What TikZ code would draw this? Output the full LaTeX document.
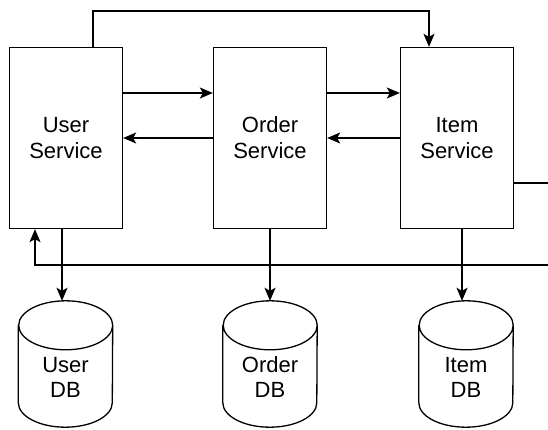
\documentclass[tikz,border=0pt]{standalone}
\usepackage{fontspec}
\setmainfont{Liberation Sans}
\usetikzlibrary{arrows.meta}

\begin{document}
\begin{tikzpicture}[x=1pt,y=-1pt,
	svc/.style={rectangle,draw,line width=1.3pt,minimum width=113pt,minimum height=181pt,align=center,font=\fontsize{22}{26}\selectfont},
	db/.style={rectangle,minimum width=94pt,minimum height=126pt,inner sep=0pt},
	dbtext/.style={align=center,font=\fontsize{22}{25}\selectfont,yshift=-13pt},
	dbline/.style={line width=1.3pt},
	arr/.style={line width=1.3pt,-{Stealth[length=13pt,width=11pt,inset=3pt]}}]
\useasboundingbox (0,0) rectangle (548,430);
\clip (0,0) rectangle (548,430);
\node [svc] (user) at (66,138) {User\\Service};
\node [svc] (order) at (270,138) {Order\\Service};
\node [svc] (item) at (457,138) {Item\\Service};
\node [db,label={[dbtext]center:User\\DB}] (userdb) at (65.5,364) {};
\node [db,label={[dbtext]center:Order\\DB}] (orderdb) at (270,364) {};
\node [db,label={[dbtext]center:Item\\DB}] (itemdb) at (466,364) {};
\foreach \d in {userdb,orderdb,itemdb}
	\draw [dbline] ([yshift=-24.5pt]\d.north west) -- ([yshift=24.5pt]\d.south west)
		arc[start angle=180,end angle=360,x radius=47pt,y radius=24.5pt]
		-- ([yshift=-24.5pt]\d.north east)
		arc[start angle=0,end angle=180,x radius=47pt,y radius=24.5pt]
		arc[start angle=180,end angle=360,x radius=47pt,y radius=24.5pt];
\draw [arr] ([yshift=45pt]user.east) -- ([yshift=45pt]order.west);
\draw [arr] ([yshift=45pt]order.east) -- ([yshift=45pt]item.west);
\draw [arr] (order.west) -- (user.east);
\draw [arr] (item.west) -- (order.east);
\draw [arr] ([xshift=27pt]user.north) |- (250,11) -| ([xshift=-28pt]item.north);
\draw [arr] ([yshift=-45pt]item.east) -| (560,265) -| ([xshift=-31pt]user.south);
\draw [arr] ([xshift=-4pt]user.south) -- ([xshift=-4pt]user.south |- userdb.north);
\draw [arr] (order.south) -- (orderdb.north);
\draw [arr] ([xshift=5pt]item.south) -- ([xshift=5pt]item.south |- itemdb.north);
\end{tikzpicture}
\end{document}
